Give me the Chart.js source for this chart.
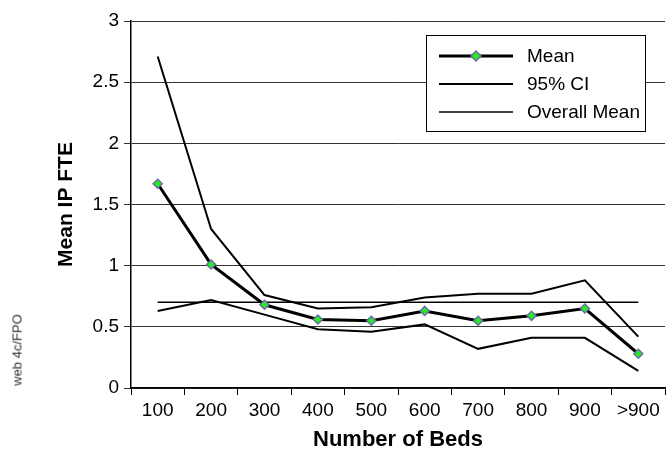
<!DOCTYPE html>
<html>
<head>
<meta charset="utf-8">
<script src="https://cdn.jsdelivr.net/npm/chart.js@4"></script>
<style>
  body { margin: 0; background: #fff; }
  #wrap { position: relative; width: 671px; height: 451px; }
  #fpo {
    position: absolute; left: 17px; top: 350px;
    transform: translate(-50%, -50%) rotate(-90deg);
    font: 13px "Liberation Sans", Arial, sans-serif; color: #333; white-space: nowrap;
  }
</style>
</head>
<body>
<div id="wrap">
  <canvas id="chart" width="671" height="451"></canvas>
  <div id="fpo">web 4c/FPO</div>
</div>
<script>
// Datos
const categories = ['100', '200', '300', '400', '500', '600', '700', '800', '900', '>900'];
const meanValues = [1.67, 1.01, 0.68, 0.56, 0.55, 0.63, 0.55, 0.59, 0.65, 0.28];
const ciUpper = [2.71, 1.30, 0.76, 0.65, 0.66, 0.74, 0.77, 0.77, 0.88, 0.42];
const ciLower = [0.63, 0.72, 0.60, 0.48, 0.46, 0.52, 0.32, 0.41, 0.41, 0.14];
const overallMean = [0.70, 0.70, 0.70, 0.70, 0.70, 0.70, 0.70, 0.70, 0.70, 0.70];

const fontFamily = '"Liberation Sans", Arial, sans-serif';

// Leyenda dentro del área del gráfico
const boxLegend = {
  id: 'boxLegend',
  afterDraw(chart) {
    const ctx = chart.ctx;
    const area = chart.chartArea;
    const w = 219, h = 96;
    const x = area.right - 20 - w, y = area.top + 14;
    ctx.save();
    ctx.fillStyle = '#fff';
    ctx.fillRect(x, y, w, h);
    ctx.strokeStyle = '#000';
    ctx.lineWidth = 1;
    ctx.strokeRect(x + 0.5, y + 0.5, w, h);
    ctx.font = '19px ' + fontFamily;
    ctx.textBaseline = 'middle';
    let row = 0;
    chart.data.datasets.forEach(ds => {
      if (ds.hideInLegend) return;
      const cy = y + 21 + row * 28;
      ctx.strokeStyle = ds.borderColor;
      ctx.lineWidth = ds.borderWidth;
      ctx.beginPath();
      ctx.moveTo(x + 13, cy);
      ctx.lineTo(x + 87, cy);
      ctx.stroke();
      if (ds.pointRadius > 0) {
        const r = ds.pointRadius + 0.5;
        ctx.fillStyle = ds.pointBackgroundColor;
        ctx.strokeStyle = ds.pointBorderColor;
        ctx.lineWidth = ds.pointBorderWidth;
        ctx.beginPath();
        ctx.moveTo(x + 50, cy - r);
        ctx.lineTo(x + 50 + r, cy);
        ctx.lineTo(x + 50, cy + r);
        ctx.lineTo(x + 50 - r, cy);
        ctx.closePath();
        ctx.fill();
        ctx.stroke();
      }
      ctx.fillStyle = '#000';
      ctx.fillText(ds.label, x + 101, cy + 1);
      row++;
    });
    ctx.restore();
  }
};

new Chart(document.getElementById('chart'), {
  type: 'line',
  data: {
    labels: categories,
    datasets: [{
      label: 'Mean',
      data: meanValues,
      borderColor: '#000',
      borderWidth: 3,
      pointStyle: 'rectRot',
      pointRadius: 4.5,
      pointBackgroundColor: '#22ee22',
      pointBorderColor: '#6b6ba8',
      pointBorderWidth: 1.5,
      tension: 0
    }, {
      label: '95% CI',
      data: ciUpper,
      borderColor: '#000',
      borderWidth: 2,
      pointRadius: 0,
      tension: 0
    }, {
      label: '95% CI',
      data: ciLower,
      borderColor: '#000',
      borderWidth: 2,
      pointRadius: 0,
      tension: 0,
      hideInLegend: true
    }, {
      label: 'Overall Mean',
      data: overallMean,
      borderColor: '#000',
      borderWidth: 1.5,
      pointRadius: 0,
      tension: 0
    }]
  },
  options: {
    responsive: false,
    animation: false,
    layout: { padding: { top: 21, right: 0, bottom: 0, left: 0 } },
    plugins: {
      legend: { display: false },
      tooltip: { enabled: false }
    },
    scales: {
      x: {
        offset: true,
        afterFit(scale) { scale.height = 63; },
        grid: { drawOnChartArea: false, drawTicks: true, tickLength: 7, color: '#000', offset: true },
        border: { color: '#000', width: 1.5 },
        ticks: { color: '#000', padding: 4, maxRotation: 0, font: { family: fontFamily, size: 19 } },
        title: {
          display: true,
          text: 'Number of Beds',
          color: '#000',
          padding: { top: 0, bottom: -2 },
          font: { family: fontFamily, size: 22, weight: 'bold' }
        }
      },
      y: {
        min: 0,
        max: 3,
        afterFit(scale) { scale.width = 131; },
        grid: { color: '#333', lineWidth: 1, tickLength: 7 },
        border: { color: '#000', width: 1.5 },
        ticks: {
          stepSize: 0.5,
          color: '#000',
          padding: 5,
          font: { family: fontFamily, size: 19 },
          callback: value => String(value)
        },
        title: {
          display: true,
          text: 'Mean IP FTE',
          color: '#000',
          padding: { top: 54, bottom: 0 },
          font: { family: fontFamily, size: 21, weight: 'bold' }
        }
      }
    }
  },
  plugins: [boxLegend]
});
</script>
</body>
</html>
